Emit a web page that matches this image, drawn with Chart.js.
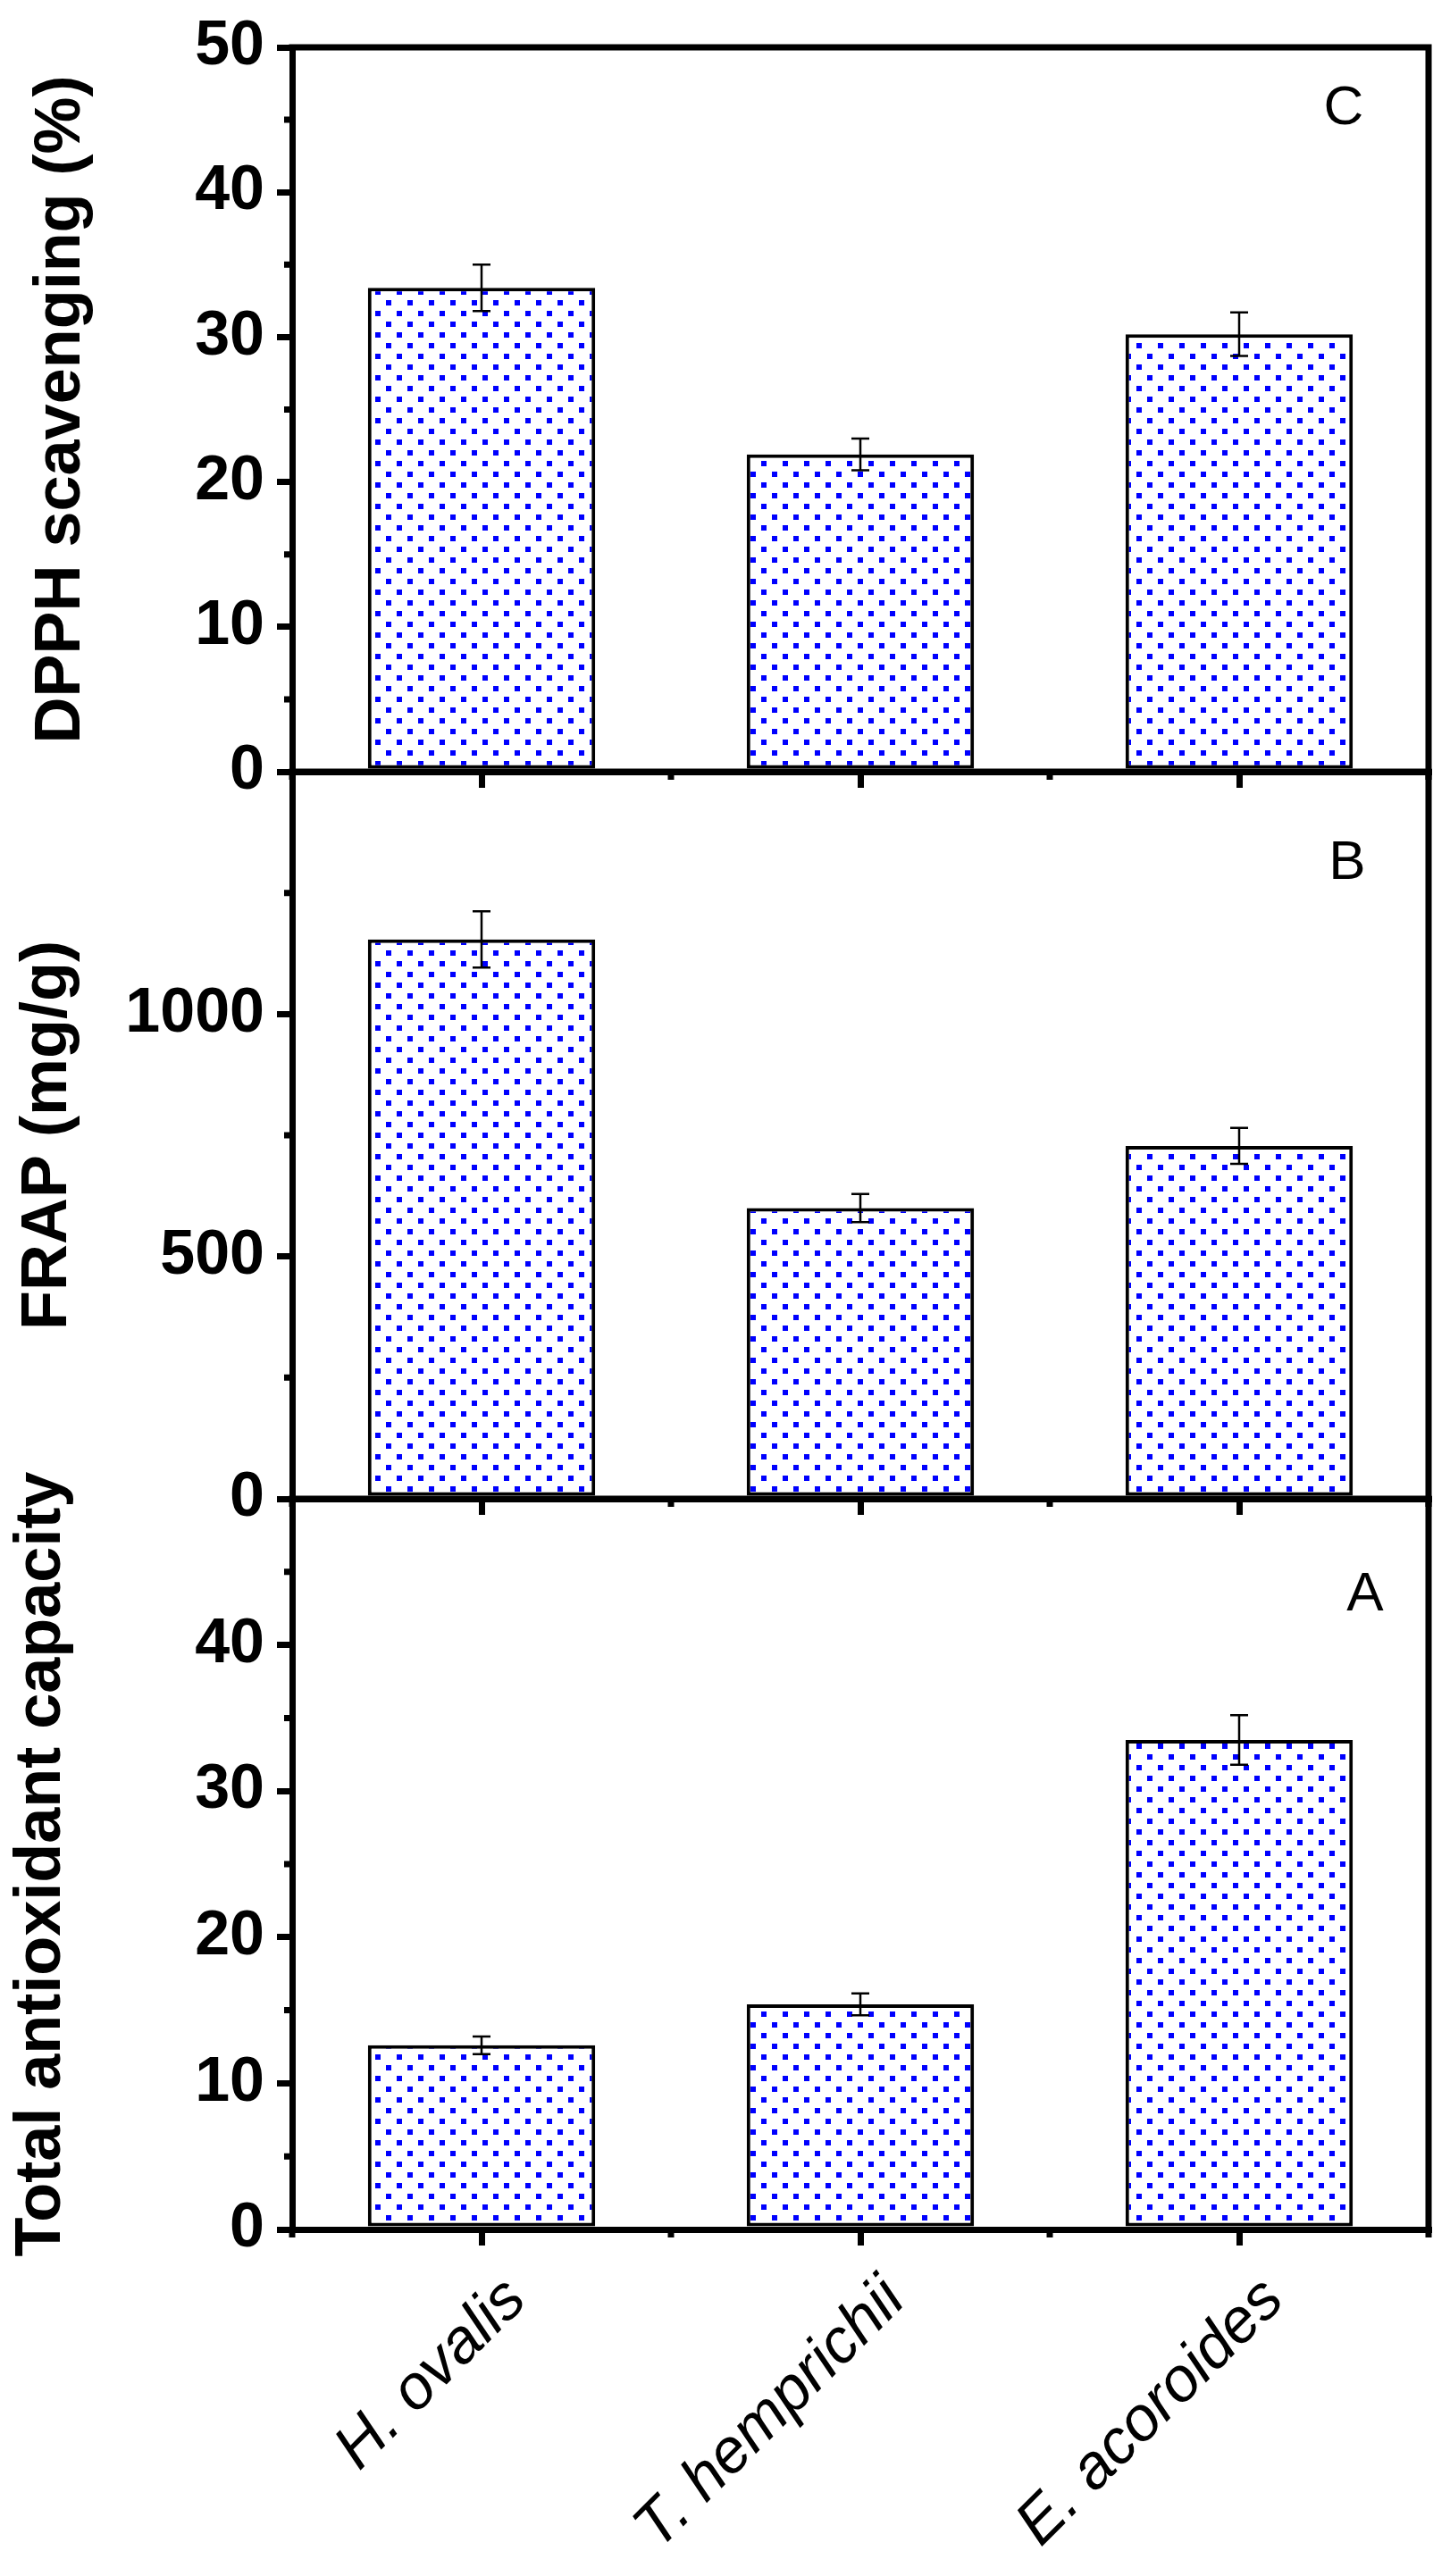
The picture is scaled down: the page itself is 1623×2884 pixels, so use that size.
<!DOCTYPE html>
<html>
<head>
<meta charset="utf-8">
<script src="https://cdn.jsdelivr.net/npm/chart.js@4.4.1/dist/chart.umd.min.js"></script>
<style>
  html, body { margin: 0; padding: 0; background: #fff; }
  body { width: 1623px; height: 2884px; position: relative; overflow: hidden; }
  canvas { position: absolute; left: 0; }
</style>
</head>
<body>
<canvas id="dpphChart" width="1623" height="900" style="top:0px"></canvas>
<canvas id="frapChart" width="1623" height="920" style="top:800px"></canvas>
<canvas id="tacChart" width="1623" height="1244" style="top:1640px"></canvas>
<script>
// Species on the x axis (shared by the three panels)
const species = ['H. ovalis', 'T. hemprichii', 'E. acoroides'];

// Panel C - DPPH scavenging (%)
const dpphValues = [33.4, 21.9, 30.2];
const dpphErrors = [1.6, 1.1, 1.5];

// Panel B - FRAP (mg/g)
const frapValues = [1154, 600, 728];
const frapErrors = [58, 29, 37];

// Panel A - Total antioxidant capacity
const tacValues = [12.6, 15.4, 33.5];
const tacErrors = [0.6, 0.75, 1.7];

Chart.defaults.font.family = '"Liberation Sans", Arial, sans-serif';
Chart.defaults.color = '#000';

// blue dotted fill like the Origin pattern
function dotPattern(ctx) {
  const tile = document.createElement('canvas');
  tile.width = 24;
  tile.height = 24;
  const t = tile.getContext('2d');
  t.fillStyle = '#fff';
  t.fillRect(0, 0, 24, 24);
  t.fillStyle = '#0000ff';
  t.fillRect(0, 0, 6, 6);
  t.fillRect(12, 12, 6, 6);
  return ctx.createPattern(tile, 'repeat');
}

// error bars, minor ticks, top/right frame and the panel letter
const panelExtras = {
  id: 'panelExtras',
  afterDatasetsDraw(chart) {
    const { ctx, scales: { y } } = chart;
    const ds = chart.data.datasets[0];
    const meta = chart.getDatasetMeta(0);
    ctx.save();
    ctx.strokeStyle = '#000';
    ctx.lineWidth = 2.5;
    ds.errors.forEach((e, i) => {
      const cx = meta.data[i].x;
      const hi = y.getPixelForValue(ds.data[i] + e);
      const lo = y.getPixelForValue(ds.data[i] - e);
      ctx.beginPath();
      ctx.moveTo(cx, hi); ctx.lineTo(cx, lo);
      ctx.moveTo(cx - 10, hi); ctx.lineTo(cx + 10, hi);
      ctx.moveTo(cx - 10, lo); ctx.lineTo(cx + 10, lo);
      ctx.stroke();
    });
    ctx.restore();
  },
  afterDraw(chart, args, opts) {
    const { ctx, chartArea: a, scales: { x, y } } = chart;
    ctx.save();
    ctx.strokeStyle = '#000';
    ctx.lineWidth = 7;
    ctx.beginPath();
    // minor y ticks
    for (let v = y.min + opts.minorStep; v < y.max; v += 2 * opts.minorStep) {
      const py = y.getPixelForValue(v);
      ctx.moveTo(a.left - 9, py);
      ctx.lineTo(a.left, py);
    }
    // minor x ticks between the categories
    for (let i = 0; i <= species.length; i++) {
      const px = x.getPixelForValue(i - 0.5);
      ctx.moveTo(px, a.bottom);
      ctx.lineTo(px, a.bottom + 9);
    }
    // top and right frame
    ctx.moveTo(a.left - 3.5, a.top);
    ctx.lineTo(a.right, a.top);
    ctx.lineTo(a.right, a.bottom + 3.5);
    ctx.stroke();
    // panel letter
    ctx.fillStyle = '#000';
    ctx.font = '62px "Liberation Sans", Arial, sans-serif';
    ctx.textAlign = 'center';
    ctx.textBaseline = 'middle';
    ctx.fillText(opts.letter, a.right + opts.letterDx, a.top + opts.letterDy);
    ctx.restore();
  }
};

function makePanel(canvasId, values, errors, cfg) {
  const ctx = document.getElementById(canvasId).getContext('2d');
  return new Chart(ctx, {
    type: 'bar',
    data: {
      labels: species,
      datasets: [{
        data: values,
        errors: errors,
        backgroundColor: dotPattern(ctx),
        borderColor: '#000',
        borderWidth: 4,
        borderSkipped: false,
        barPercentage: 1,
        categoryPercentage: 0.6
      }]
    },
    options: {
      responsive: false,
      animation: false,
      layout: { padding: { top: cfg.padTop, right: 24, left: 0, bottom: 0 } },
      plugins: {
        legend: { display: false },
        tooltip: { enabled: false },
        panelExtras: { letter: cfg.letter, letterDx: cfg.letterDx, letterDy: cfg.letterDy, minorStep: cfg.yStep / 2 }
      },
      scales: {
        x: {
          offset: true,
          border: { display: true, width: 7, color: '#000' },
          grid: { offset: false, drawOnChartArea: false, tickLength: 18, tickWidth: 7, lineWidth: 7, tickColor: '#000' },
          ticks: {
            display: cfg.showLabels,
            autoSkip: false,
            minRotation: 45,
            maxRotation: 45,
            padding: 20,
            labelOffset: 39,
            color: '#000',
            font: { size: 70, style: 'italic' }
          },
          afterFit: s => {
            s.height = cfg.xHeight;
            s.paddingLeft = 0;
            s.paddingRight = 0;
          }
        },
        y: {
          min: 0,
          max: cfg.yMax,
          border: { display: true, width: 7, color: '#000' },
          grid: { drawOnChartArea: false, tickLength: 17, tickWidth: 7, lineWidth: 7, tickColor: '#000' },
          ticks: {
            stepSize: cfg.yStep,
            padding: 14,
            color: '#000',
            font: { size: 70, weight: 'bold' },
            callback: v => (v === cfg.yHide ? '' : v)
          },
          title: {
            display: true,
            text: cfg.title,
            color: '#000',
            font: { size: 72, weight: 'bold' },
            padding: { top: cfg.titlePad, bottom: 0 }
          },
          afterFit: s => {
            s.width = 327;
            s.paddingTop = 0;
            s.paddingBottom = 0;
          }
        }
      }
    },
    plugins: [panelExtras]
  });
}

makePanel('dpphChart', dpphValues, dpphErrors, {
  padTop: 53, xHeight: 36, yMax: 50, yStep: 10, yHide: null,
  title: 'DPPH scavenging (%)', titlePad: 26, showLabels: false,
  letter: 'C', letterDx: -95, letterDy: 69
});

makePanel('frapChart', frapValues, frapErrors, {
  padTop: 64, xHeight: 42, yMax: 1500, yStep: 500, yHide: 1500,
  title: 'FRAP (mg/g)', titlePad: 11, showLabels: false,
  letter: 'B', letterDx: -91, letterDy: 103
});

makePanel('tacChart', tacValues, tacErrors, {
  padTop: 38, xHeight: 388, yMax: 50, yStep: 10, yHide: 50,
  title: 'Total antioxidant capacity', titlePad: 4, showLabels: true,
  letter: 'A', letterDx: -71, letterDy: 108
});
</script>
</body>
</html>
